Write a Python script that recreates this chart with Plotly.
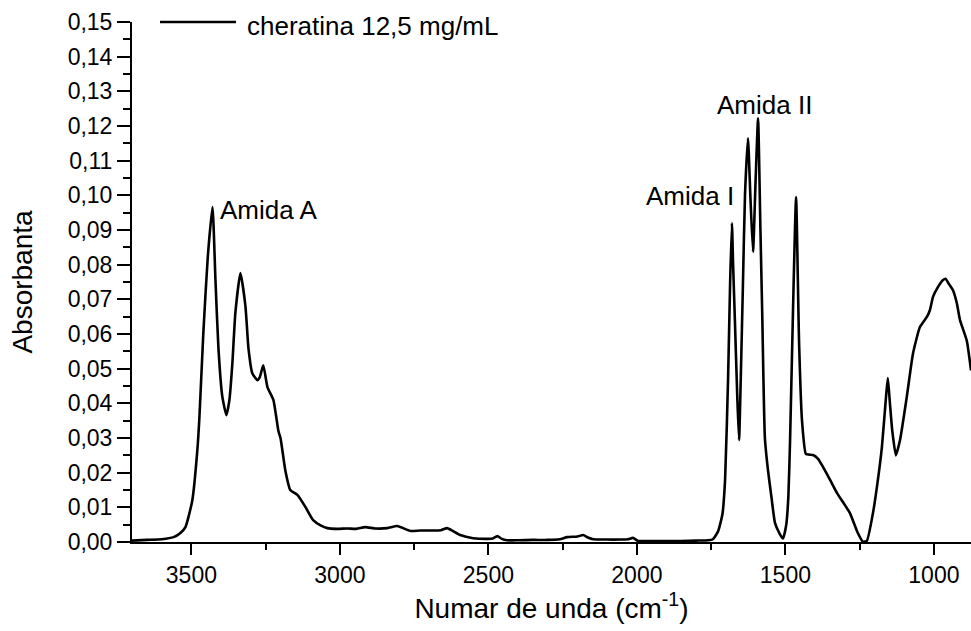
import plotly.graph_objects as go

# Wavenumber (cm^-1) and absorbance
wavenumber = [
    3700, 3650, 3600, 3560, 3537, 3520, 3497, 3480, 3473, 3460,
    3445, 3429, 3419, 3409, 3396, 3382, 3372, 3362, 3352, 3335,
    3318, 3308, 3295, 3278, 3270, 3258, 3244, 3224, 3207, 3200,
    3184, 3167, 3143, 3116, 3090, 3065, 3042, 3010, 2975, 2945,
    2915, 2880, 2840, 2807, 2763, 2730, 2690, 2660, 2639, 2620,
    2595, 2551, 2504, 2485, 2470, 2455, 2437, 2400, 2350, 2300,
    2260, 2235, 2200, 2181, 2165, 2147, 2100, 2057, 2030, 2013,
    1996, 1950, 1900, 1850, 1800, 1760, 1744, 1727, 1712, 1703,
    1693, 1686, 1680, 1676, 1670, 1662, 1656, 1650, 1643, 1636,
    1626, 1618, 1609, 1600, 1592, 1584, 1578, 1569, 1559, 1547,
    1535, 1520, 1508, 1497, 1490, 1484, 1474, 1464, 1454, 1444,
    1431, 1420, 1407, 1390, 1373, 1350, 1326, 1300, 1283, 1256,
    1239, 1226, 1205, 1190, 1175, 1161, 1155, 1148, 1140, 1128,
    1114, 1091, 1070, 1047, 1023, 1013, 1003, 986, 970, 960,
    950, 936, 923, 912, 889, 875,
]
absorbance = [
    0.0004, 0.0006, 0.0008, 0.0014, 0.0026, 0.0043, 0.012, 0.0265, 0.036, 0.060,
    0.082, 0.0966, 0.0756, 0.056, 0.042, 0.0366, 0.041, 0.0516, 0.066, 0.0776,
    0.068, 0.056, 0.0487, 0.0467, 0.0475, 0.051, 0.0447, 0.041, 0.032, 0.030,
    0.0208, 0.015, 0.0136, 0.0101, 0.0063, 0.0048, 0.0040, 0.0038, 0.0039, 0.0038,
    0.0043, 0.0039, 0.0040, 0.0046, 0.0032, 0.0033, 0.0033, 0.0034, 0.0040, 0.0032,
    0.0020, 0.0011, 0.0009, 0.0010, 0.0017, 0.0009, 0.0005, 0.0005, 0.0006, 0.0006,
    0.0008, 0.0014, 0.0016, 0.0020, 0.0013, 0.0008, 0.0007, 0.0007, 0.0008, 0.0012,
    0.0003, 0.0003, 0.0003, 0.0003, 0.0004, 0.0005, 0.0008, 0.003, 0.008, 0.018,
    0.047, 0.075, 0.092, 0.080, 0.064, 0.042, 0.0294, 0.048, 0.074, 0.100,
    0.1165, 0.100, 0.0837, 0.105, 0.1222, 0.090, 0.066, 0.030, 0.021, 0.013,
    0.0055, 0.0025, 0.001, 0.005, 0.013, 0.030, 0.068, 0.0995, 0.058, 0.035,
    0.0254, 0.0252, 0.0251, 0.024, 0.0216, 0.018, 0.0141, 0.0107, 0.0084, 0.0026,
    0.0001, 0.0003, 0.0084, 0.017, 0.0274, 0.042, 0.0473, 0.040, 0.032, 0.025,
    0.0294, 0.042, 0.0545, 0.062, 0.065, 0.067, 0.0707, 0.0736, 0.0755, 0.0759,
    0.0745, 0.0727, 0.0690, 0.064, 0.058, 0.0495,
]

series_name = "cheratina 12,5 mg/mL"
peak_labels = ["Amida A", "Amida I", "Amida II"]
peak_label_x = [3412, 1666, 1569]
peak_label_y = [0.0958, 0.0998, 0.1262]
peak_label_anchor = ["left", "right", "center"]

FONT = "Liberation Sans, Arial, sans-serif"

fig = go.Figure()
fig.add_trace(go.Scatter(
    x=wavenumber, y=absorbance, mode="lines", name=series_name,
    line=dict(color="black", width=2.6, shape="spline", smoothing=0.5),
    showlegend=False,
))

for txt, xv, yv, anc in zip(peak_labels, peak_label_x, peak_label_y, peak_label_anchor):
    fig.add_annotation(x=xv, y=yv, xref="x", yref="y", text=txt, showarrow=False,
                       xanchor=anc, yanchor="middle",
                       font=dict(family=FONT, size=26, color="black"))

# legend drawn as a short line sample + text
fig.add_shape(type="line", xref="paper", yref="paper", x0=0.0334, x1=0.124, y0=1.0, y1=1.0,
              line=dict(color="black", width=2.6))
fig.add_annotation(x=0.135, y=0.993, xref="paper", yref="paper", text=series_name,
                   showarrow=False, xanchor="left", yanchor="middle",
                   font=dict(family=FONT, size=26, color="black"))

fig.update_layout(
    width=971, height=631,
    margin=dict(l=132, r=0, t=22, b=89),
    paper_bgcolor="white", plot_bgcolor="white",
    separators=",.",
    font=dict(family=FONT, color="black"),
    xaxis=dict(
        range=[3700, 875], showgrid=False, zeroline=False,
        showline=True, linecolor="black", linewidth=2,
        ticks="outside", ticklen=11, tickwidth=2, tickcolor="black",
        tick0=1000, dtick=500, tickformat="d",
        tickfont=dict(family=FONT, size=23, color="black"),
        minor=dict(ticks="outside", ticklen=6, tickwidth=2, tickcolor="black", dtick=250, showgrid=False),
        title=dict(text="Numar de unda (cm<sup>-1</sup>)", standoff=12,
                   font=dict(family=FONT, size=28, color="black")),
    ),
    yaxis=dict(
        range=[0, 0.15], showgrid=False, zeroline=False,
        showline=True, linecolor="black", linewidth=2,
        ticks="outside", ticklen=13, tickwidth=2, tickcolor="black",
        tick0=0, dtick=0.01, tickformat=".2f",
        tickfont=dict(family=FONT, size=23, color="black"),
        minor=dict(ticks="outside", ticklen=7, tickwidth=2, tickcolor="black", dtick=0.005, showgrid=False),
        title=dict(text="Absorbanta", standoff=27,
                   font=dict(family=FONT, size=28, color="black")),
    ),
)

fig.write_html("out.html")
